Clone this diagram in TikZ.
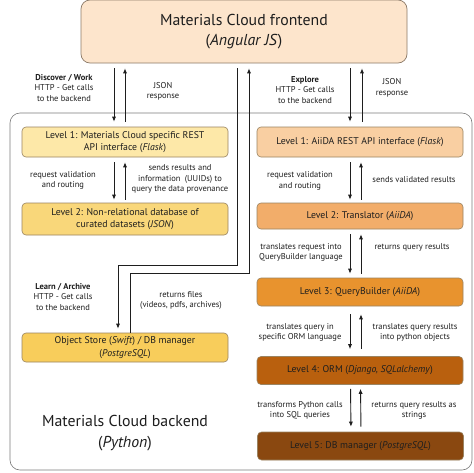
\documentclass[tikz,border=0pt]{standalone}
\usepackage{fontspec}
\setmainfont{PT Sans}
\usetikzlibrary{arrows.meta}
\definecolor{cFront}{HTML}{FDE5CC}
\definecolor{cFrontB}{HTML}{8C7A68}
\definecolor{cBackB}{HTML}{7A7A7A}
\definecolor{cBoxB}{HTML}{9A8462}
\definecolor{cLa}{HTML}{FDE8A8}
\definecolor{cLb}{HTML}{F9D77A}
\definecolor{cLc}{HTML}{F8CD5B}
\definecolor{cRa}{HTML}{F9CFA2}
\definecolor{cRb}{HTML}{F2AD6A}
\definecolor{cRc}{HTML}{E8932E}
\definecolor{cRd}{HTML}{B9600E}
\definecolor{cRe}{HTML}{8A4810}
\definecolor{cTxt}{HTML}{1E1E1E}
\begin{document}
\begin{tikzpicture}[x=1pt,y=-1pt,
  lvl/.style={draw=cBoxB, line width=0.6pt, rounded corners=4pt, align=center, inner sep=0pt,
    minimum width=206pt, text=cTxt, font=\fontsize{9.8}{12.2}\selectfont},
  lbl/.style={align=center, inner sep=0pt, text=cTxt, font=\fontsize{8.5}{10.6}\selectfont},
  big/.style={align=center, inner sep=0pt, text=cTxt, font=\fontsize{15.8}{20.5}\selectfont},
  arr/.style={-{Latex[length=5pt,width=4.2pt]}, line width=0.9pt, draw=cTxt}
]
\useasboundingbox (0,0) rectangle (474,472);
\fill[white] (0,0) rectangle (474,472);

% backend container
\node[draw=cBackB, line width=0.6pt, rounded corners=10pt, minimum width=462pt, minimum height=357pt, inner sep=0pt] (back) at (241,291.5) {};
\node[big] (backtxt) at (125,433) {Materials Cloud backend\\(\textit{Python})};

% frontend
\node[draw=cFrontB, fill=cFront, line width=0.7pt, rounded corners=9pt, minimum width=326pt, minimum height=63pt, inner sep=0pt, big] (front) at (244,31.5) {Materials Cloud frontend\\(\textit{Angular JS})};

% left column
\node[lvl, fill=cLa, minimum height=30pt] (l1) at (125,142) {Level 1: Materials Cloud specific REST\\API interface (\textit{Flask})};
\node[lvl, fill=cLb, minimum height=32pt] (l2) at (125,219) {Level 2: Non-relational database of\\curated datasets (\textit{JSON})};
\node[lvl, fill=cLc, minimum height=29pt] (obj) at (125,347.5) {Object Store (\textit{Swift}) / DB manager\\(\textit{PostgreSQL})};

% right column
\node[lvl, fill=cRa, minimum height=30pt] (r1) at (360,142) {Level 1: AiiDA REST API interface (\textit{Flask})};
\node[lvl, fill=cRb, minimum height=26pt] (r2) at (360,216) {Level 2: Translator (\textit{AiiDA})};
\node[lvl, fill=cRc, minimum height=28pt] (r3) at (360,292) {Level 3: QueryBuilder (\textit{AiiDA})};
\node[lvl, fill=cRd, minimum height=28pt] (r4) at (360,370.5) {Level 4: ORM (\textit{Django, SQLalchemy})};
\node[lvl, fill=cRe, minimum height=28pt] (r5) at (360.5,446) {Level 5: DB manager (\textit{PostgreSQL})};

% labels
\node[lbl] (t1) at (64,88) {\textbf{Discover / Work}\\HTTP - Get calls\\to the backend};
\node[lbl] (t2) at (163,91.5) {JSON\\response};
\node[lbl] (t3) at (305,90) {\textbf{Explore}\\HTTP - Get calls\\to the backend};
\node[lbl] (t4) at (392,88) {JSON\\response};
\node[lbl] (t5) at (63,180.5) {request validation\\and routing};
\node[lbl] (t6) at (180,179) {sends results and\\information\enspace(UUIDs) to\\query the data provenance};
\node[lbl] (t7) at (300,181) {request validation\\and routing};
\node[lbl] (t8) at (414,180) {sends validated results};
\node[lbl] (t9) at (301,252.5) {translates request into\\QueryBuilder language};
\node[lbl] (t10) at (412,247) {returns query results};
\node[lbl] (t11) at (300,332.5) {translates query in\\specific ORM language};
\node[lbl] (t12) at (415,332.5) {translates query results\\into python objects};
\node[lbl] (t13) at (300,410.5) {transforms Python calls\\into SQL queries};
\node[lbl] (t14) at (414,410.5) {returns query results as\\strings};
\node[lbl] (t15) at (63,297) {\textbf{Learn / Archive}\\HTTP - Get calls\\to the backend};
\node[lbl] (t16) at (181,300.5) {returns files\\(videos, pdfs, archives)};

% frontend <-> level 1
\draw[arr, shorten <=5pt, shorten >=5pt] ([xshift=-130pt]front.south) -- ([xshift=-11pt]l1.north);
\draw[arr, shorten <=5pt, shorten >=5pt] ([xshift=0pt]l1.north) -- ([xshift=-119pt]front.south);
\draw[arr, shorten <=5pt, shorten >=5pt] ([xshift=106pt]front.south) -- ([xshift=-10pt]r1.north);
\draw[arr, shorten <=5pt, shorten >=5pt] ([xshift=2pt]r1.north) -- ([xshift=118pt]front.south);

% frontend <-> object store
\draw[arr, shorten <=5pt, shorten >=4pt] ([xshift=-7pt]front.south) -- ++(0,202) -| ([xshift=-7pt]obj.north);
\draw[arr, shorten >=5pt] ([xshift=5pt]obj.north) -- ++(0,-59) -| ([xshift=5pt]front.south);

% left column
\draw[arr, shorten <=5pt, shorten >=3pt] ([xshift=-11pt]l1.south) -- ([xshift=-11pt]l2.north);
\draw[arr, shorten <=3pt, shorten >=5pt] ([xshift=0pt]l2.north) -- ([xshift=0pt]l1.south);

% right column
\draw[arr, shorten <=5pt, shorten >=3pt] ([xshift=-10pt]r1.south) -- ([xshift=-10pt]r2.north);
\draw[arr, shorten <=3pt, shorten >=5pt] ([xshift=1pt]r2.north) -- ([xshift=1pt]r1.south);
\draw[arr, shorten <=5pt, shorten >=4pt] ([xshift=-10pt]r2.south) -- ([xshift=-10pt]r3.north);
\draw[arr, shorten <=4pt, shorten >=5pt] ([xshift=1pt]r3.north) -- ([xshift=1pt]r2.south);
\draw[arr, shorten <=8pt, shorten >=7pt] ([xshift=-10pt]r3.south) -- ([xshift=-10pt]r4.north);
\draw[arr, shorten <=7pt, shorten >=8pt] ([xshift=1pt]r4.north) -- ([xshift=1pt]r3.south);
\draw[arr, shorten <=4pt, shorten >=5pt] ([xshift=-9.5pt]r4.south) -- ([xshift=-9.5pt]r5.north);
\draw[arr, shorten <=5pt, shorten >=4pt] ([xshift=0.5pt]r5.north) -- ([xshift=0.5pt]r4.south);
\end{tikzpicture}
\end{document}
